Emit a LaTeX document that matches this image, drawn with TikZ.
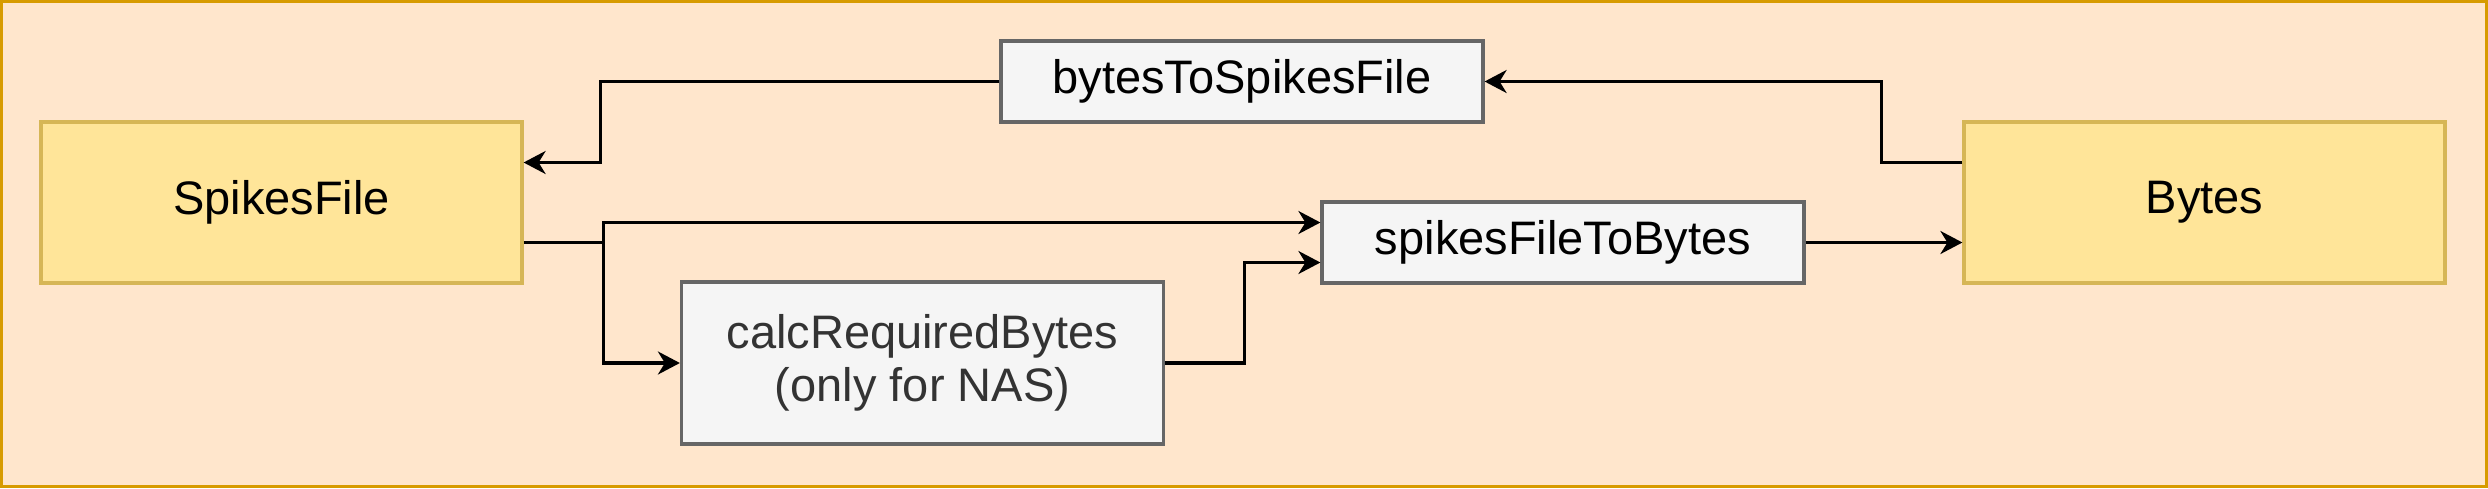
\documentclass[tikz,border=0pt]{standalone}
\usepackage{fontspec}
\setmainfont{Liberation Sans}
\usetikzlibrary{arrows.meta}
\definecolor{frameS}{HTML}{D79B00}
\definecolor{frameF}{HTML}{FFE6CC}
\definecolor{yelF}{HTML}{FFE599}
\definecolor{yelS}{HTML}{D6B656}
\definecolor{grF}{HTML}{F5F5F5}
\definecolor{grS}{HTML}{666666}
\definecolor{grT}{HTML}{333333}
\tikzset{
  x=0.5pt, y=-0.5pt,
  txt/.style={font=\fontsize{23.5}{26.5}\selectfont, align=center, inner sep=0pt},
  bigbox/.style={txt, draw=yelS, fill=yelF, line width=1.6pt, minimum width=240.5pt, minimum height=80.5pt},
  fnbox/.style={txt, draw=grS, fill=grF, line width=1.6pt, minimum width=241pt, minimum height=40.5pt},
  fnboxg/.style={fnbox, text=grT, minimum height=81pt},
  edge/.style={line width=1.6pt, draw=black, -{Stealth[length=11pt, width=11.5pt, inset=3.5pt]}},
  plain/.style={line width=1.6pt, draw=black}
}
\begin{document}
\begin{tikzpicture}
\useasboundingbox (0,0) rectangle (2488,488);
\draw[draw=frameS, fill=frameF, line width=1.6pt] (1.6,1.6) rectangle (2486.4,486.4);

\node[bigbox] (sf) at (281.5,202.5) {SpikesFile};
\node[bigbox] (by) at (2204.5,202.5) {Bytes};
\node[fnbox] (b2s) at (1242,81.5) {bytesToSpikesFile};
\node[fnbox] (sfb) at (1563,242.5) {spikesFileToBytes};
\node[fnboxg] (calc) at (922.5,363) {calcRequiredBytes\\(only for NAS)};

\draw[edge] (b2s.west) -- ++(-399,0) |- ([yshift=20pt]sf.east);
\draw[edge] ([yshift=20pt]by.west) -- ++(-81,0) |- (b2s.east);
\draw[edge] ([yshift=-20pt]sf.east) -- ++(80,0) coordinate (br) |- ([yshift=10pt]sfb.west);
\draw[edge] (br) |- (calc.west);
\draw[edge] (calc.east) -- ++(79,0) |- ([yshift=-10pt]sfb.west);
\draw[edge] (sfb.east) -- (sfb.east -| by.west);
\end{tikzpicture}
\end{document}
